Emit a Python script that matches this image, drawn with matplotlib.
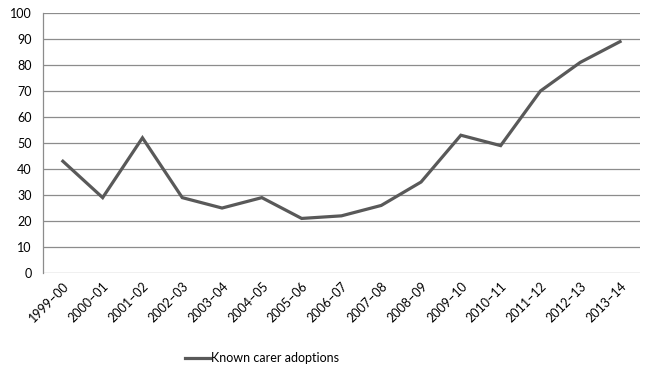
import matplotlib.pyplot as plt

years = ["1999–00", "2000–01", "2001–02", "2002–03", "2003–04", "2004–05",
         "2005–06", "2006–07", "2007–08", "2008–09", "2009–10", "2010–11",
         "2011–12", "2012–13", "2013–14"]
adoptions = [43, 29, 52, 29, 25, 29, 21, 22, 26, 35, 53, 49, 70, 81, 89]

plt.rcParams["font.family"] = ["Lato", "DejaVu Sans"]

fig = plt.figure(figsize=(6.51, 3.71), dpi=100)
ax = fig.add_axes([0.066, 0.264, 0.917, 0.701])

x = range(len(years))
ax.plot(x, adoptions, color="#595959", linewidth=2.3, label="Known carer adoptions",
        solid_joinstyle="miter")

ax.set_xlim(-0.5, len(years) - 0.5)
ax.set_ylim(0, 100)
ax.set_yticks(range(0, 101, 10))
ax.set_xticks(list(x))
ax.set_xticklabels(years, rotation=45, ha="right", rotation_mode="anchor")
ax.tick_params(axis="both", length=0, labelsize=9, colors="black")
ax.tick_params(axis="x", pad=5)
ax.tick_params(axis="y", pad=8)

ax.grid(axis="y", color="#8c8c8c", linewidth=0.9)
ax.set_axisbelow(True)
for side in ["top", "right", "bottom"]:
    ax.spines[side].set_visible(False)
ax.spines["left"].set_color("#8c8c8c")
ax.spines["left"].set_linewidth(0.9)

fig.legend(loc="center", bbox_to_anchor=(0.403, 0.035), frameon=False, fontsize=9,
           handlelength=2.0, handletextpad=0.1)

fig.savefig("out.png", dpi=100)
